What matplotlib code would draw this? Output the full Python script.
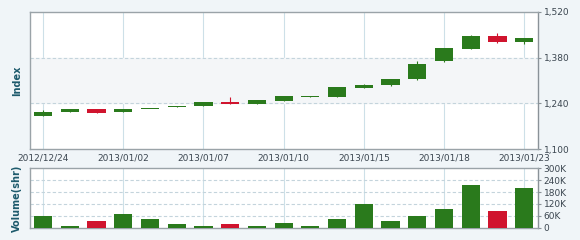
import numpy as np
import matplotlib
matplotlib.use('Agg')
import matplotlib.pyplot as plt

# daily candles, index 0..18
opens  = [1201, 1213, 1224, 1213, 1222, 1230, 1232, 1244, 1239, 1248,
          1260, 1259, 1287, 1295, 1314, 1369, 1407, 1447, 1428]
closes = [1214, 1223, 1210, 1223, 1223, 1231, 1244, 1238, 1250, 1262,
          1262, 1289, 1297, 1315, 1361, 1409, 1447, 1427, 1439]
highs  = [1221, 1224, 1224, 1224, 1223, 1231, 1245, 1260, 1251, 1263,
          1262, 1290, 1298, 1316, 1370, 1410, 1448, 1456, 1440]
lows   = [1200, 1212, 1209, 1212, 1222, 1230, 1231, 1237, 1238, 1247,
          1259, 1258, 1286, 1294, 1313, 1368, 1406, 1426, 1421]
volume = [61, 8, 35, 67, 44, 17, 8, 17, 8, 22,
          8, 44, 118, 35, 61, 97, 218, 84, 198]  # thousand shares
tick_pos = [0, 3, 6, 9, 12, 15, 18]
tick_labels = ['2012/12/24', '2013/01/02', '2013/01/07', '2013/01/10',
               '2013/01/15', '2013/01/18', '2013/01/23']

green = '#2a7a1c'
red = '#d0142e'
txt = '#3b4650'
lab = '#1d5a6c'
frame = '#9aa3a8'
vgrid = '#cde0e8'

fig = plt.figure(figsize=(5.8, 2.4), dpi=100)
fig.patch.set_facecolor('#f0f5f8')

ax = fig.add_axes([0.0517, 0.379, 0.876, 0.571])
av = fig.add_axes([0.0517, 0.051, 0.876, 0.248])

x = np.arange(len(opens))
cols = [green if c >= o else red for o, c in zip(opens, closes)]

for a in (ax, av):
    a.set_facecolor('white')
    a.set_xlim(-0.49, 18.52)
    for p in tick_pos:
        a.axvline(p, color=vgrid, lw=0.8, zorder=0)
    for s in a.spines.values():
        s.set_color(frame)
        s.set_linewidth(1.0)
    a.spines['right'].set_color('#8a9298')
    a.yaxis.tick_right()
    a.tick_params(axis='y', length=2, pad=2, labelsize=6.5,
                  colors='#8a9298', labelcolor=txt)
    a.tick_params(axis='x', length=0)

# price panel
ax.set_ylim(1100, 1520)
ax.axhspan(1240, 1380, color='#f4f6f8', zorder=0)
for yv in (1240, 1380):
    ax.axhline(yv, color='#c4d4dc', lw=0.8, ls=(0, (3, 2)), zorder=0)
ax.set_yticks([1100, 1240, 1380, 1520])
ax.set_yticklabels(['1,100', '1,240', '1,380', '1,520'])
ax.set_xticks(tick_pos)
ax.set_xticklabels(tick_labels)
ax.tick_params(axis='x', labelsize=6.5, colors=txt, pad=3)
ax.vlines(x, lows, highs, color=cols, lw=0.8, zorder=2)
bottoms = np.minimum(opens, closes)
heights = np.maximum(np.abs(np.array(closes) - np.array(opens)), 2.5)
ax.bar(x, heights, bottom=bottoms, width=0.68, color=cols, zorder=3)
ax.set_ylabel('Index', fontsize=7, fontweight='bold', color=lab, labelpad=6)

# volume panel
av.set_ylim(0, 300)
for yv in (60, 120, 180, 240):
    av.axhline(yv, color='#c4d4dc', lw=0.8, ls=(0, (3, 2)), zorder=0)
av.set_yticks([0, 60, 120, 180, 240, 300])
av.set_yticklabels(['0', '60K', '120K', '180K', '240K', '300K'])
av.set_xticks([])
av.bar(x, volume, width=0.68, color=cols, zorder=3)
av.set_ylabel('Volume(shr)', fontsize=7, fontweight='bold', color=lab, labelpad=6)

fig.savefig('out.png', dpi=100, facecolor=fig.get_facecolor())
